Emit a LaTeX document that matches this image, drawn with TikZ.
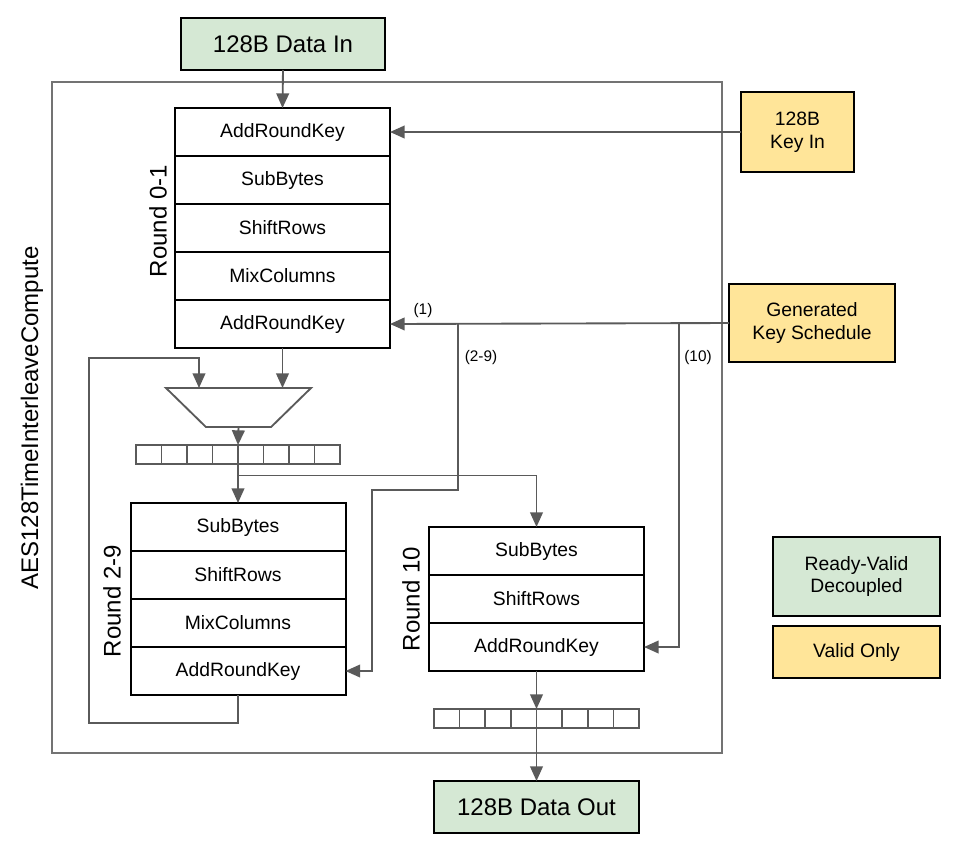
\documentclass[tikz,border=0pt]{standalone}
\usepackage{fontspec}
\setmainfont{Liberation Sans}
\usetikzlibrary{arrows.meta, positioning, shapes.geometric}
\definecolor{rvgreen}{RGB}{213,232,212}
\definecolor{vyellow}{RGB}{255,229,153}
\definecolor{wiregray}{RGB}{90,90,90}
\definecolor{framegray}{RGB}{115,115,115}
\tikzset{
  cell/.style={rectangle, draw=black, line width=1.5pt, fill=white,
    minimum width=161.25pt, minimum height=36pt, inner sep=0pt,
    outer sep=0pt, font=\fontsize{14.5}{17}\selectfont},
  portbox/.style={rectangle, draw=black, line width=1.5pt, inner sep=0pt,
    outer sep=0pt, align=center, font=\fontsize{14.5}{17}\selectfont},
  rvbox/.style={portbox, fill=rvgreen},
  vbox/.style={portbox, fill=vyellow},
  biglabel/.style={font=\fontsize{18}{21}\selectfont},
  roundlabel/.style={biglabel, rotate=90},
  tag/.style={font=\fontsize{11.5}{13}\selectfont},
  wire/.style={draw=wiregray, line width=1.4pt},
  arr/.style={wire, -{Triangle[length=11pt,width=9.5pt]}},
  regbox/.style={rectangle, draw=wiregray, line width=1.2pt, fill=white,
    minimum height=14.25pt, inner sep=0pt, outer sep=0pt},
  muxbox/.style={trapezium, trapezium stretches=true, shape border rotate=180,
    trapezium angle=58.5, minimum width=108.75pt, minimum height=29.25pt,
    draw=wiregray, line width=1.4pt, fill=white, inner sep=2pt, outer sep=0pt},
}

\begin{document}
\begin{tikzpicture}[x=0.75pt, y=-0.75pt]
  \useasboundingbox (0,0) rectangle (955,851);

  % core frame
  \node[draw=framegray, line width=1.4pt, minimum width=502.5pt,
    minimum height=503.25pt, inner sep=0pt, outer sep=0pt] (core) at (387,417.5) {};
  \node[roundlabel] (corename) at (32,418) {AES128TimeInterleaveCompute};

  % ports
  \node[rvbox, minimum width=153pt, minimum height=39pt, biglabel] (din) at (283,44) {128B Data In};
  \node[rvbox, minimum width=153.75pt, minimum height=39pt, biglabel] (dout) at (536.5,807) {128B Data Out};
  \node[vbox, minimum width=84.75pt, minimum height=60pt] (keyin) at (797.5,132) {128B\\Key In};
  \node[vbox, minimum width=124.5pt, minimum height=58.5pt] (gen) at (812,323) {Generated\\Key Schedule};

  % legend
  \node[rvbox, minimum width=125.25pt, minimum height=59.25pt] (legrv) at (856.5,576.5) {Ready-Valid\\Decoupled};
  \node[vbox, minimum width=125.25pt, minimum height=39pt] (legv) at (856.5,652) {Valid Only};

  % Round 0-1
  \node[cell] (rA1) at (282.5,132) {AddRoundKey};
  \node[cell, below=0pt of rA1] (rA2) {SubBytes};
  \node[cell, below=0pt of rA2] (rA3) {ShiftRows};
  \node[cell, below=0pt of rA3] (rA4) {MixColumns};
  \node[cell, below=0pt of rA4] (rA5) {AddRoundKey};
  \node[roundlabel] (rAname) at (158,221) {Round 0-1};

  % mux and state register
  \node[muxbox] (mux) at (238.5,407.5) {};
  \node[regbox, minimum width=153pt] (reg1) at (238,454.5) {};
  \foreach \i in {1,...,7}
    \draw[wire, line width=1.2pt] ([xshift=\i*19.125pt]reg1.south west) -- ([xshift=\i*19.125pt]reg1.north west);

  % Round 2-9
  \node[cell] (rB1) at (238,527) {SubBytes};
  \node[cell, below=0pt of rB1] (rB2) {ShiftRows};
  \node[cell, below=0pt of rB2] (rB3) {MixColumns};
  \node[cell, below=0pt of rB3] (rB4) {AddRoundKey};
  \node[roundlabel] (rBname) at (112,601) {Round 2-9};

  % Round 10
  \node[cell] (rC1) at (536.5,551) {SubBytes};
  \node[cell, below=0pt of rC1] (rC2) {ShiftRows};
  \node[cell, below=0pt of rC2] (rC3) {AddRoundKey};
  \node[roundlabel] (rCname) at (411,599) {Round 10};

  % output register
  \node[regbox, minimum width=153.75pt] (reg2) at (536.5,718.5) {};
  \foreach \i in {1,...,7}
    \draw[wire, line width=1.2pt] ([xshift=\i*19.22pt]reg2.south west) -- ([xshift=\i*19.22pt]reg2.north west);

  % bend points
  \coordinate (split) at (238,475.5);
  \coordinate (fbbot) at (89,723);
  \coordinate (fbtop) at (89,358);
  \coordinate (muxsel) at (199,388);
  \coordinate (tap29) at (458,323);
  \coordinate (jog29) at (372,490);
  \coordinate (tap10) at (679,323);

  % data path
  \draw[arr] (din.south) -- (rA1.north);
  \draw[arr] (rA5.south) -- (rA5.south |- mux.north);
  \draw[arr] (rB4.south) |- (fbbot) -- (fbtop) -| (muxsel);
  \draw[arr] (mux.south) -- (reg1.north);
  \draw[arr] (reg1.south) -- (rB1.north);
  \draw[arr] (split) -| (rC1.north);
  \draw[arr] (rC3.south) -- (reg2.north);
  \draw[arr] (reg2.south) -- (dout.north);

  % keys
  \draw[arr] (keyin.west) -- (rA1.east);
  \draw[arr] (gen.west) -- (rA5.east);
  \draw[arr] (tap29) |- (jog29) |- (rB4.east);
  \draw[arr] (tap10) |- (rC3.east);
  \node[tag] (t1) at (423,311) {(1)};
  \node[tag] (t29) at (481,358) {(2-9)};
  \node[tag] (t10) at (698,358) {(10)};
\end{tikzpicture}
\end{document}
